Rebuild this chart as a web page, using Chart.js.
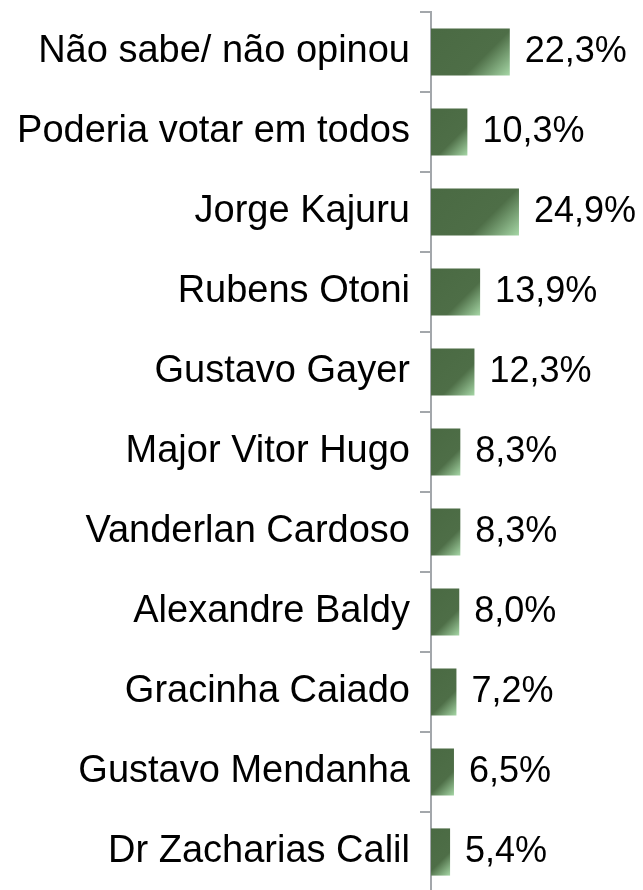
<!DOCTYPE html>
<html>
<head>
<meta charset="utf-8">
<script src="https://cdn.jsdelivr.net/npm/chart.js@4.4.1/dist/chart.umd.min.js"></script>
<style>
html,body{margin:0;padding:0;background:#fff;overflow:hidden;}
#wrap{width:643px;height:900px;position:relative;}
</style>
</head>
<body>
<div id="wrap"><canvas id="c" width="643" height="900"></canvas></div>
<script>
const categories = [
  'Não sabe/ não opinou',
  'Poderia votar em todos',
  'Jorge Kajuru',
  'Rubens Otoni',
  'Gustavo Gayer',
  'Major Vitor Hugo',
  'Vanderlan Cardoso',
  'Alexandre Baldy',
  'Gracinha Caiado',
  'Gustavo Mendanha',
  'Dr Zacharias Calil'
];
const values = [22.3, 10.3, 24.9, 13.9, 12.3, 8.3, 8.3, 8.0, 7.2, 6.5, 5.4];

const DARK = '#4a6a43';
const LIGHT = '#a6d7a6';

function barGradient(ctx) {
  const chart = ctx.chart;
  const xs = chart.scales.x, ys = chart.scales.y;
  if (!chart.chartArea || !xs || !ys || ctx.type !== 'data') return DARK;
  const v = ctx.raw;
  const x0 = xs.getPixelForValue(0);
  const x1 = xs.getPixelForValue(v);
  const yc = ys.getPixelForValue(ctx.dataIndex);
  const h = (ys.height / categories.length) * 0.59;
  const w = x1 - x0;
  const d = (w + h) / 2;
  const top = yc - h / 2;
  const g = chart.ctx.createLinearGradient(x0, top, x0 + d, top + d);
  g.addColorStop(0, DARK);
  g.addColorStop(0.64, '#4e6e47');
  g.addColorStop(1, LIGHT);
  return g;
}

const valueLabels = {
  id: 'valueLabels',
  afterDatasetsDraw(chart) {
    const c = chart.ctx;
    const meta = chart.getDatasetMeta(0);
    c.save();
    c.font = '36px "Liberation Sans", Arial, sans-serif';
    c.fillStyle = '#000';
    c.textAlign = 'left';
    c.textBaseline = 'middle';
    meta.data.forEach((bar, i) => {
      const txt = values[i].toFixed(1).replace('.', ',') + '%';
      c.fillText(txt, bar.x + 15, bar.y);
    });
    c.restore();
  }
};

new Chart(document.getElementById('c'), {
  type: 'bar',
  data: {
    labels: categories,
    datasets: [{
      data: values,
      backgroundColor: barGradient,
      borderWidth: 0,
      barPercentage: 0.59,
      categoryPercentage: 1.0
    }]
  },
  options: {
    indexAxis: 'y',
    responsive: false,
    animation: false,
    devicePixelRatio: 1,
    layout: { padding: { top: 12, bottom: 8, left: 0, right: 106 } },
    plugins: { legend: { display: false }, tooltip: { enabled: false } },
    scales: {
      x: {
        display: false,
        min: 0,
        max: 30
      },
      y: {
        afterFit(scale) {
          scale.width = 431;
          scale.paddingTop = 0;
          scale.paddingBottom = 0;
        },
        grid: {
          display: true,
          drawOnChartArea: false,
          drawTicks: true,
          tickLength: 11,
          offset: true,
          color: '#a3a7ab',
          lineWidth: 2
        },
        border: { display: true, color: '#a3a7ab', width: 2 },
        ticks: {
          color: '#000',
          padding: 10,
          font: { family: '"Liberation Sans", Arial, sans-serif', size: 38 }
        }
      }
    }
  },
  plugins: [valueLabels]
});
</script>
</body>
</html>
